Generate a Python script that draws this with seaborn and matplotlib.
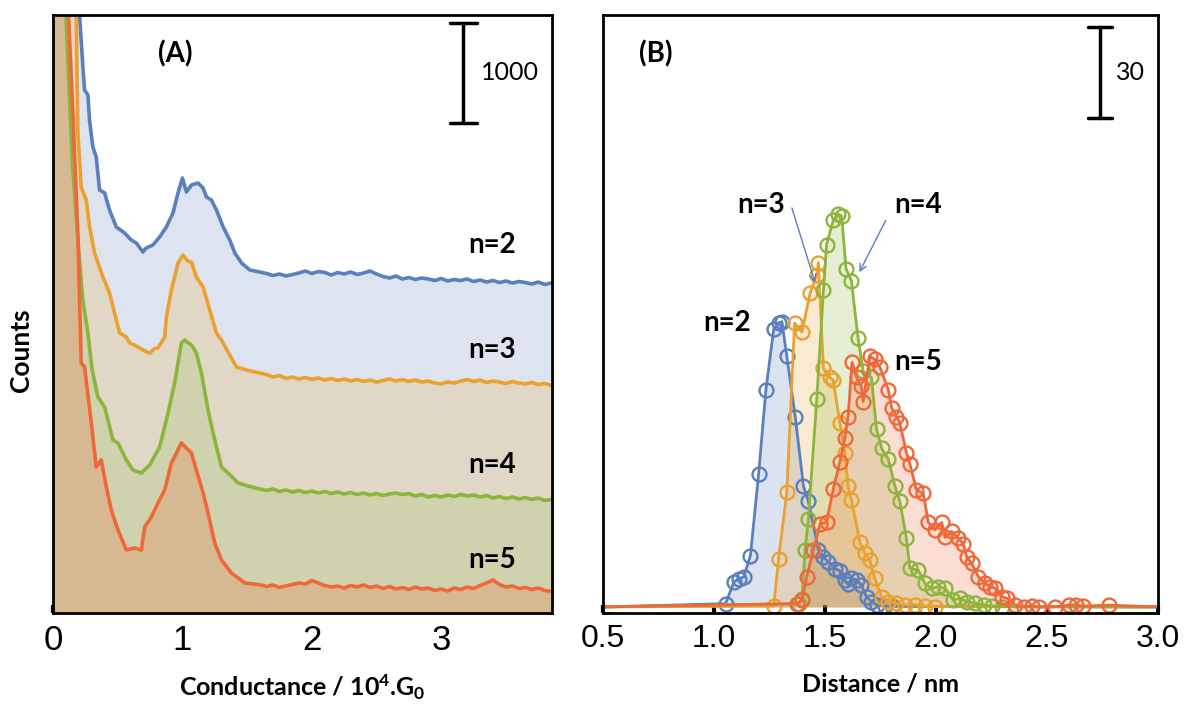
import numpy as np
import pandas as pd
import matplotlib
matplotlib.use("Agg")
import matplotlib.pyplot as plt
import seaborn as sns
from matplotlib import font_manager

# ---------------- Panel A data (conductance histograms, offset) ----------------
tail_g = [1.65, 1.70, 1.75, 1.80, 1.85, 1.90, 1.95, 2.00, 2.05, 2.10, 2.15, 2.20, 2.25,
          2.30, 2.35, 2.40, 2.45, 2.50, 2.55, 2.60, 2.65, 2.70, 2.75, 2.80, 2.85, 2.90,
          2.95, 3.00, 3.05, 3.10, 3.15, 3.20, 3.25, 3.30, 3.35, 3.40, 3.45, 3.50, 3.55,
          3.60, 3.65, 3.70, 3.75, 3.80, 3.85]

a_n2_g = [0.00, 0.18, 0.205, 0.231, 0.244, 0.27, 0.282, 0.308, 0.334, 0.36, 0.399, 0.437,
          0.489, 0.553, 0.605, 0.644, 0.695, 0.72, 0.772, 0.824, 0.876, 0.927, 0.966, 1.0,
          1.031, 1.07, 1.121, 1.16, 1.186, 1.224, 1.263, 1.315, 1.366, 1.405, 1.457, 1.521, 1.598]
a_n2_c = [9000, 6400, 5980, 5460, 5230, 5180, 4930, 4660, 4560, 4230, 4200, 4030,
          3860, 3800, 3730, 3700, 3610, 3650, 3680, 3760, 3860, 4000, 4200, 4350,
          4210, 4280, 4300, 4250, 4160, 4130, 4030, 3860, 3730, 3600, 3500, 3430, 3410]
a_n2_tail = [3395, 3375, 3390, 3370, 3385, 3400, 3420, 3395, 3415, 3405, 3380, 3405, 3390,
             3410, 3385, 3400, 3420, 3390, 3365, 3350, 3370, 3340, 3355, 3335, 3350, 3340,
             3325, 3345, 3320, 3335, 3325, 3340, 3315, 3330, 3310, 3325, 3305, 3320, 3300,
             3315, 3305, 3290, 3310, 3285, 3300]

a_n3_g = [0.00, 0.17, 0.18, 0.192, 0.218, 0.257, 0.283, 0.321, 0.386, 0.437, 0.489, 0.515,
          0.567, 0.592, 0.63, 0.67, 0.71, 0.747, 0.78, 0.811, 0.863, 0.876, 0.915, 0.966,
          1.005, 1.04, 1.07, 1.108, 1.16, 1.211, 1.263, 1.302, 1.366, 1.418, 1.495, 1.598]
a_n3_c = [9000, 6200, 5980, 4800, 4260, 4130, 3860, 3600, 3360, 3200, 2930, 2800,
          2760, 2700, 2680, 2650, 2620, 2600, 2640, 2650, 2760, 2960, 3230, 3500,
          3580, 3520, 3510, 3360, 3260, 3030, 2800, 2730, 2580, 2460, 2430, 2400]
a_n3_tail = [2385, 2360, 2375, 2345, 2360, 2340, 2355, 2335, 2350, 2330, 2345, 2325, 2340,
             2320, 2335, 2315, 2330, 2310, 2325, 2340, 2320, 2335, 2315, 2330, 2310, 2320,
             2300, 2290, 2310, 2300, 2320, 2335, 2315, 2330, 2305, 2320, 2310, 2295, 2315,
             2300, 2290, 2305, 2285, 2295, 2275]

a_n4_g = [0.00, 0.10, 0.15, 0.20, 0.23, 0.27, 0.30, 0.347, 0.399, 0.463, 0.502, 0.567,
          0.618, 0.683, 0.747, 0.824, 0.889, 0.94, 0.992, 1.018, 1.045, 1.07, 1.108, 1.147,
          1.198, 1.237, 1.302, 1.353, 1.431, 1.534, 1.60]
a_n4_c = [9000, 5980, 4500, 3600, 3130, 2800, 2450, 2160, 2060, 1730, 1700, 1530,
          1430, 1400, 1480, 1660, 2000, 2300, 2700, 2730, 2700, 2680, 2600, 2400,
          2030, 1800, 1460, 1400, 1300, 1260, 1240]
a_n4_tail = [1225, 1240, 1215, 1230, 1210, 1225, 1205, 1220, 1200, 1215, 1195, 1210, 1190,
             1205, 1185, 1200, 1180, 1195, 1175, 1190, 1200, 1185, 1195, 1170, 1185, 1160,
             1175, 1160, 1180, 1165, 1185, 1170, 1180, 1160, 1175, 1150, 1165, 1145, 1160,
             1140, 1155, 1135, 1150, 1125, 1135]

a_n5_g = [0.00, 0.12, 0.16, 0.192, 0.205, 0.218, 0.244, 0.296, 0.334, 0.373, 0.412, 0.45,
          0.502, 0.567, 0.631, 0.683, 0.708, 0.76, 0.811, 0.863, 0.915, 0.954, 0.992, 1.031,
          1.07, 1.108, 1.16, 1.198, 1.25, 1.302, 1.379, 1.482, 1.55, 1.611]
a_n5_c = [9000, 5980, 4800, 3800, 3130, 2500, 2460, 1900, 1460, 1530, 1260, 1030,
          830, 630, 650, 630, 860, 960, 1100, 1230, 1500, 1600, 1700, 1650,
          1600, 1430, 1200, 1000, 700, 530, 400, 300, 290, 280]
a_n5_tail = [265, 280, 255, 270, 285, 300, 290, 325, 300, 275, 260, 270, 250,
             275, 260, 280, 255, 270, 245, 265, 240, 255, 235, 260, 240, 250,
             225, 240, 220, 250, 235, 260, 245, 275, 300, 330, 285, 260, 270,
             245, 255, 235, 250, 225, 215]

# ---------------- Panel B data (distance histograms) ----------------
b_n2_x = [1.052, 1.090, 1.112, 1.134, 1.164, 1.201, 1.234, 1.269, 1.291, 1.306, 1.328, 1.366,
          1.403, 1.425, 1.470, 1.493, 1.515, 1.545, 1.566, 1.589, 1.604, 1.619, 1.642, 1.664,
          1.687, 1.709, 1.732, 1.770, 1.800]
b_n2_y = [1.1, 8.3, 9.4, 9.9, 17, 44, 72, 92, 94, 94.5, 83, 63,
          40, 35, 19, 16.5, 15, 12.7, 12, 9, 7.5, 9.5, 9, 7.3,
          3.4, 1.8, 0.7, 0.3, 0.2]

b_n3_x = [1.269, 1.291, 1.328, 1.363, 1.396, 1.433, 1.463, 1.470, 1.493, 1.522, 1.537, 1.567,
          1.590, 1.604, 1.619, 1.657, 1.679, 1.702, 1.724, 1.755, 1.785, 1.822, 1.860, 1.905,
          1.950, 1.995]
b_n3_y = [0.3, 16, 38, 94, 91, 104, 110, 114, 79, 76, 75, 61,
          51, 40, 35.5, 21.5, 18, 15.5, 9.5, 3.4, 1.8, 1.2, 0.7, 0.7,
          0.3, 0.1]

b_n4_x = [1.381, 1.396, 1.410, 1.425, 1.463, 1.493, 1.507, 1.537, 1.560, 1.575, 1.595, 1.619,
          1.649, 1.672, 1.709, 1.732, 1.755, 1.785, 1.815, 1.837, 1.867, 1.882, 1.920, 1.950,
          1.980, 2.011, 2.041, 2.078, 2.108, 2.138, 2.176, 2.214, 2.251, 2.297]
b_n4_y = [1.1, 2.8, 19, 29, 69, 105, 120, 128, 130, 129.5, 112, 108,
          89, 78, 76, 59, 52.5, 49, 40, 35, 22.7, 12.8, 12.2, 7.8,
          6.2, 6.7, 6.2, 2.3, 2.9, 1.8, 1.2, 0.7, 0.3, 0.1]

b_n5_x = [1.373, 1.396, 1.418, 1.448, 1.478, 1.507, 1.537, 1.567, 1.590, 1.604, 1.622, 1.642,
          1.664, 1.672, 1.702, 1.724, 1.747, 1.785, 1.800, 1.822, 1.837, 1.867, 1.882, 1.912,
          1.943, 1.965, 1.995, 2.026, 2.041, 2.071, 2.101, 2.123, 2.138, 2.161, 2.191, 2.221,
          2.244, 2.267, 2.297, 2.319, 2.357, 2.395, 2.432, 2.462, 2.538, 2.598, 2.630, 2.660,
          2.780]
b_n5_y = [1.1, 2.2, 10, 19, 27.5, 28, 39, 48, 56, 63, 81, 76,
          73, 68, 83, 82, 79.5, 72, 66, 63, 61, 51, 47.5, 38.7,
          37.6, 28, 25.5, 28, 23, 25, 22.7, 21, 16.6, 14.4, 10, 7.8,
          6.7, 6.2, 3.4, 2.9, 0.7, 0.1, 0.3, 0.0, 0.1, 0.6, 0.8, 0.3,
          0.6]

labels = ["n=2", "n=3", "n=4", "n=5"]
line_colors = ["#5b7fbd", "#eba12e", "#8db53b", "#f0683a"]
a_fill_colors = ["#dde4f0", "#e0d7c6", "#cfd2ad", "#d6b891"]

# ---------------- style ----------------
sns.set_theme(style="white")
avail = {f.name for f in font_manager.fontManager.ttflist}
narrow = "Liberation Sans Narrow" if "Liberation Sans Narrow" in avail else "Liberation Sans"
plt.rcParams["font.family"] = ["Lato", "DejaVu Sans"]
plt.rcParams["mathtext.default"] = "regular"
plt.rcParams["text.color"] = "black"
plt.rcParams["axes.labelcolor"] = "black"
plt.rcParams["xtick.color"] = "black"
plt.rcParams["ytick.color"] = "black"

W, H = 1187, 715
fig = plt.figure(figsize=(W / 100, H / 100), dpi=100)
axA = fig.add_axes([53 / W, 1 - 613 / H, 499 / W, 598 / H])
axB = fig.add_axes([603 / W, 1 - 613 / H, 555 / W, 598 / H])

# ---------------- Panel A ----------------
a_g = [a_n2_g, a_n3_g, a_n4_g, a_n5_g]
a_c = [a_n2_c, a_n3_c, a_n4_c, a_n5_c]
a_t = [a_n2_tail, a_n3_tail, a_n4_tail, a_n5_tail]
for i in range(4):
    df = pd.DataFrame({"G": a_g[i] + tail_g, "counts": a_c[i] + a_t[i]})
    axA.fill_between(df["G"], df["counts"], 0, color=a_fill_colors[i], lw=0, zorder=1 + i)
for i in range(4):
    df = pd.DataFrame({"G": a_g[i] + tail_g, "counts": a_c[i] + a_t[i]})
    sns.lineplot(data=df, x="G", y="counts", ax=axA, color=line_colors[i], lw=2.6,
                 sort=False, estimator=None, zorder=10 + i)
axA.set_xlim(0, 3.856)
axA.set_ylim(0, 5980)
axA.set_xticks([0, 1, 2, 3])
axA.set_xticklabels(["0", "1", "2", "3"])
axA.set_yticks([])
axA.set_xlabel("Conductance / 10$^{4}$.G$_{0}$", fontsize=18, fontweight="bold")
axA.xaxis.set_label_coords(0.5, -0.1)
axA.set_ylabel("Counts", fontsize=19, fontweight="bold")
axA.yaxis.set_label_coords(-0.04, 0.44)
axA.text(0.245, 0.935, "(A)", transform=axA.transAxes, fontsize=20, fontweight="bold",
         ha="center", va="center")
for lab, yy in zip(labels, [0.615, 0.44, 0.248, 0.088]):
    axA.text(0.88, yy, lab, transform=axA.transAxes, fontsize=20, fontweight="bold",
             ha="center", va="center", zorder=30)
# scale bar 1000 counts
axA.plot([3.17, 3.17], [4900, 5900], color="black", lw=2.5, zorder=30, solid_capstyle="butt")
axA.plot([3.07, 3.28], [4900, 4900], color="black", lw=2.5, zorder=30)
axA.plot([3.07, 3.28], [5900, 5900], color="black", lw=2.5, zorder=30)
axA.text(3.31, 5400, "1000", fontsize=18, ha="left", va="center", zorder=30)

# ---------------- Panel B ----------------
b_x = [b_n2_x, b_n3_x, b_n4_x, b_n5_x]
b_y = [b_n2_y, b_n3_y, b_n4_y, b_n5_y]
for i in range(4):
    xs = [0.5] + b_x[i] + [3.0]
    ys = [0.0] + b_y[i] + [0.0]
    df = pd.DataFrame({"d": xs, "counts": ys})
    axB.fill_between(df["d"], df["counts"], 0, color=line_colors[i], alpha=0.22, lw=0, zorder=1 + i)
    sns.lineplot(data=df, x="d", y="counts", ax=axB, color=line_colors[i], lw=2.0,
                 marker="o", markersize=10, markerfacecolor="none",
                 markeredgecolor=line_colors[i], markeredgewidth=1.7,
                 markevery=list(range(1, len(xs) - 1)),
                 sort=False, estimator=None, zorder=10 + i)
axB.set_xlim(0.5, 3.0)
axB.set_ylim(-2, 196)
axB.set_xticks([0.5, 1.0, 1.5, 2.0, 2.5, 3.0])
axB.set_xticklabels(["0.5", "1.0", "1.5", "2.0", "2.5", "3.0"])
axB.set_yticks([])
axB.set_xlabel("Distance / nm", fontsize=18, fontweight="bold")
axB.xaxis.set_label_coords(0.5, -0.1)
axB.set_ylabel("")
axB.text(0.095, 0.935, "(B)", transform=axB.transAxes, fontsize=20, fontweight="bold",
         ha="center", va="center")
axB.text(1.21, 133, "n=3", fontsize=20, fontweight="bold", ha="center", va="center", zorder=30)
axB.text(1.92, 133, "n=4", fontsize=20, fontweight="bold", ha="center", va="center", zorder=30)
axB.text(1.06, 94, "n=2", fontsize=20, fontweight="bold", ha="center", va="center", zorder=30)
axB.text(1.92, 81, "n=5", fontsize=20, fontweight="bold", ha="center", va="center", zorder=30)
axB.annotate("", xy=(1.459, 106.5), xytext=(1.347, 133),
             arrowprops=dict(arrowstyle="->", color="#5b7fbd", lw=1.0), zorder=30)
axB.annotate("", xy=(1.649, 110), xytext=(1.779, 128.8),
             arrowprops=dict(arrowstyle="->", color="#5b7fbd", lw=1.0), zorder=30)
# scale bar 30 counts
axB.plot([2.74, 2.74], [162, 192], color="black", lw=2.5, zorder=30)
axB.plot([2.685, 2.795], [162, 162], color="black", lw=2.5, zorder=30)
axB.plot([2.685, 2.795], [192, 192], color="black", lw=2.5, zorder=30)
axB.text(2.81, 177, "30", fontsize=18, ha="left", va="center", zorder=30)

for ax, fam, fs in [(axA, narrow, 25), (axB, "Liberation Sans", 23)]:
    for sp in ax.spines.values():
        sp.set_visible(True)
        sp.set_color("black")
        sp.set_linewidth(2.0)
        sp.set_zorder(40)
    ax.tick_params(axis="x", direction="in", length=6, width=3, color="black",
                   labelcolor="black", pad=8, labelsize=fs, bottom=True)
    for t in ax.get_xticklabels():
        t.set_family(fam)
    ax.grid(False)
    ax.set_facecolor("white")

fig.savefig("out.png", dpi=100)
